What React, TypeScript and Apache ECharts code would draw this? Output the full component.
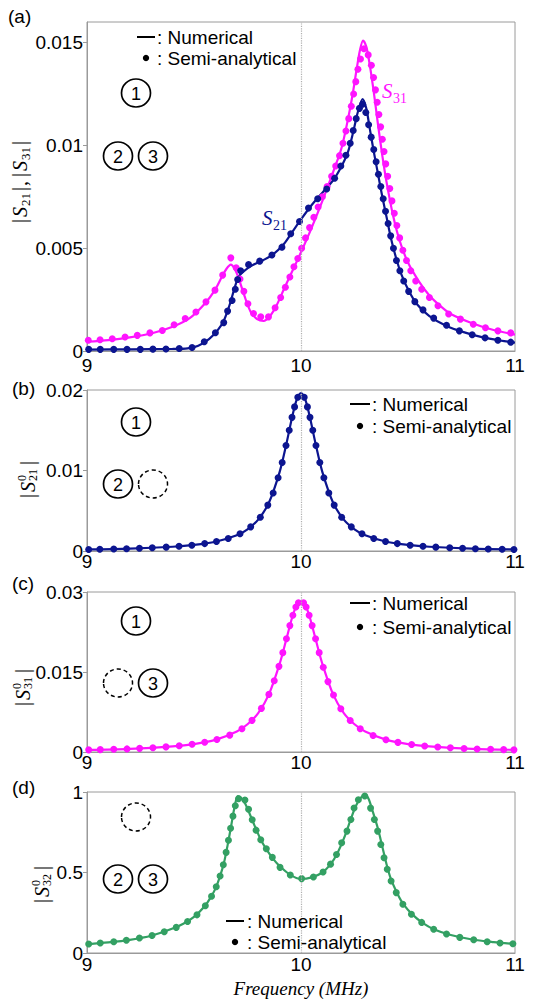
import { useEffect, useRef } from "react";
import * as echarts from "echarts";

type P = [number, number];

const SANS = "'Liberation Sans', Arial, sans-serif";
const SERIF = "'Liberation Serif', 'Times New Roman', serif";
const BLUE = "#0c1590";
const PINK = "#ff14ff";
const GREEN = "#33a063";

const freqTicks = [9, 10, 11];
const yTicksA = [0, 0.005, 0.01, 0.015];
const yTicksB = [0, 0.01, 0.02];
const yTicksC = [0, 0.015, 0.03];
const yTicksD = [0, 0.5, 1];
const yMax = [0.016, 0.02, 0.03, 1];
const yStep = [0.005, 0.01, 0.015, 0.5];

// (a) |S21| numerical
const s21LineA: P[] = [
  [9.0, 0.00007], [9.2, 0.00008], [9.4, 0.0001], [9.47, 0.00013], [9.52, 0.00026], [9.57, 0.00058],
  [9.61, 0.001], [9.64, 0.0015], [9.665, 0.0022], [9.685, 0.0029], [9.7, 0.0034], [9.715, 0.0037],
  [9.735, 0.0039], [9.77, 0.00415], [9.82, 0.0044], [9.87, 0.0047], [9.92, 0.0052], [9.96, 0.0058],
  [10.0, 0.0064], [10.05, 0.0071], [10.1, 0.0077], [10.15, 0.0083], [10.19, 0.009], [10.22, 0.0097],
  [10.245, 0.0107], [10.265, 0.0116], [10.288, 0.01225], [10.305, 0.0118], [10.32, 0.0109],
  [10.34, 0.0097], [10.36, 0.0086], [10.38, 0.0075], [10.4, 0.0065], [10.42, 0.0055], [10.445, 0.0045],
  [10.47, 0.0037], [10.5, 0.003], [10.54, 0.0023], [10.6, 0.0017], [10.68, 0.00122], [10.76, 0.00092],
  [10.85, 0.00066], [10.93, 0.00051], [11.0, 0.00041],
];
// (a) |S21| semi-analytical
const s21DotsA: P[] = [
  [9.008, 0.00008], [9.062, 0.00008], [9.125, 0.00008], [9.187, 0.00008], [9.249, 0.00008], [9.308, 0.00009],
  [9.369, 0.0001], [9.431, 0.00012], [9.491, 0.00017], [9.548, 0.00045], [9.6, 0.00089], [9.639, 0.00138],
  [9.657, 0.00194], [9.678, 0.00246], [9.693, 0.003], [9.704, 0.00348], [9.718, 0.0039], [9.755, 0.0042],
  [9.807, 0.00437], [9.864, 0.00467], [9.911, 0.00505], [9.952, 0.0057], [9.993, 0.0063], [10.035, 0.00695],
  [10.078, 0.0074], [10.12, 0.00788], [10.157, 0.0084], [10.186, 0.009], [10.21, 0.00952], [10.23, 0.0101],
  [10.244, 0.01072], [10.258, 0.0113], [10.273, 0.0118], [10.288, 0.012], [10.303, 0.0116], [10.316, 0.011],
  [10.328, 0.0104], [10.34, 0.0098], [10.351, 0.0092], [10.362, 0.0086], [10.373, 0.008], [10.384, 0.0074],
  [10.395, 0.0068], [10.407, 0.0062], [10.419, 0.0056], [10.432, 0.005], [10.446, 0.0044], [10.462, 0.0039],
  [10.48, 0.0034], [10.503, 0.0029], [10.532, 0.0024], [10.57, 0.002], [10.62, 0.0016], [10.68, 0.00125],
  [10.74, 0.00098], [10.8, 0.00079], [10.86, 0.00064], [10.92, 0.00052], [10.98, 0.00043],
];
// (a) |S31| numerical
const s31LineA: P[] = [
  [9.0, 0.00045], [9.1, 0.00053], [9.2, 0.00066], [9.3, 0.00085], [9.4, 0.00118], [9.48, 0.0016],
  [9.55, 0.0023], [9.6, 0.003], [9.63, 0.0036], [9.652, 0.004], [9.672, 0.0042], [9.69, 0.004],
  [9.71, 0.0035], [9.735, 0.0027], [9.765, 0.0019], [9.795, 0.00155], [9.825, 0.00146], [9.855, 0.0017],
  [9.885, 0.0022], [9.92, 0.003], [9.96, 0.0039], [10.0, 0.0048], [10.05, 0.006], [10.1, 0.0073],
  [10.15, 0.0087], [10.19, 0.0099], [10.22, 0.0113], [10.24, 0.0124], [10.26, 0.0137], [10.275, 0.0146],
  [10.29, 0.0151], [10.305, 0.0148], [10.32, 0.014], [10.34, 0.0126], [10.36, 0.011], [10.38, 0.0095],
  [10.4, 0.0082], [10.43, 0.0066], [10.46, 0.0054], [10.5, 0.0043], [10.55, 0.0034], [10.6, 0.0027],
  [10.65, 0.0022], [10.7, 0.0018], [10.8, 0.00135], [10.9, 0.00102], [11.0, 0.0008],
];
// (a) |S31| semi-analytical
const s31DotsA: P[] = [
  [9.006, 0.00052], [9.061, 0.00055], [9.118, 0.0006], [9.178, 0.00068], [9.235, 0.00076], [9.294, 0.00088],
  [9.352, 0.001], [9.407, 0.00128], [9.459, 0.00158], [9.509, 0.0019], [9.556, 0.00239], [9.598, 0.00296],
  [9.634, 0.00369], [9.672, 0.00453], [9.697, 0.00405], [9.715, 0.0035], [9.733, 0.0029], [9.752, 0.0023],
  [9.778, 0.00182], [9.812, 0.00166], [9.848, 0.00166], [9.879, 0.0021], [9.905, 0.0026], [9.927, 0.0031],
  [9.948, 0.0036], [9.967, 0.0041], [9.985, 0.0045], [10.003, 0.005], [10.021, 0.0055], [10.04, 0.006],
  [10.06, 0.0065], [10.08, 0.007], [10.1, 0.0075], [10.122, 0.008], [10.143, 0.0085], [10.162, 0.009],
  [10.18, 0.0095], [10.196, 0.0101], [10.21, 0.0107], [10.223, 0.0113], [10.235, 0.0119], [10.246, 0.0125],
  [10.256, 0.0131], [10.266, 0.0137], [10.278, 0.0142], [10.294, 0.0147], [10.314, 0.0144], [10.329, 0.0139],
  [10.339, 0.0133], [10.348, 0.0127], [10.356, 0.0121], [10.364, 0.0115], [10.372, 0.0109], [10.38, 0.0103],
  [10.388, 0.0097], [10.396, 0.0091], [10.405, 0.0085], [10.415, 0.0079], [10.425, 0.0073], [10.436, 0.0067],
  [10.448, 0.0061], [10.461, 0.0055], [10.476, 0.0049], [10.493, 0.0044], [10.513, 0.0039], [10.536, 0.0034],
  [10.564, 0.003], [10.6, 0.0026], [10.64, 0.0022], [10.69, 0.0018], [10.745, 0.00155], [10.805, 0.0013],
  [10.862, 0.00113], [10.92, 0.00098], [10.98, 0.00088],
];
// (b) |S21^0|
const s21LineB: P[] = [
  [9.0, 0.00019], [9.2, 0.0003], [9.4, 0.00053], [9.5, 0.00075], [9.6, 0.00115], [9.7, 0.00195],
  [9.75, 0.0027], [9.8, 0.0039], [9.85, 0.006], [9.9, 0.0098], [9.93, 0.0131], [9.96, 0.0168],
  [9.98, 0.0188], [10.0, 0.0196], [10.02, 0.0188], [10.04, 0.0168], [10.07, 0.0131], [10.1, 0.0098],
  [10.15, 0.006], [10.2, 0.0039], [10.25, 0.0027], [10.3, 0.00195], [10.4, 0.00115], [10.5, 0.00075],
  [10.6, 0.00053], [10.8, 0.0003], [11.0, 0.00019],
];
const s21DotsB: P[] = [
  [9.008, 0.00019], [9.06, 0.00022], [9.125, 0.00025], [9.185, 0.00029], [9.245, 0.00034], [9.305, 0.0004],
  [9.37, 0.00048], [9.43, 0.00058], [9.49, 0.00072], [9.55, 0.00092], [9.605, 0.00118], [9.66, 0.00155],
  [9.715, 0.00214], [9.765, 0.003], [9.81, 0.0042], [9.845, 0.0057], [9.87, 0.0072], [9.893, 0.0091],
  [9.912, 0.011], [9.93, 0.0131], [9.945, 0.015], [9.958, 0.0166], [9.97, 0.0179], [9.985, 0.0191],
  [10.015, 0.0191], [10.03, 0.0179], [10.042, 0.0166], [10.055, 0.015], [10.07, 0.0131], [10.088, 0.011],
  [10.107, 0.0091], [10.13, 0.0072], [10.155, 0.0057], [10.19, 0.0042], [10.235, 0.003], [10.285, 0.00214],
  [10.34, 0.00155], [10.395, 0.00118], [10.45, 0.00092], [10.51, 0.00072], [10.57, 0.00058], [10.63, 0.00048],
  [10.695, 0.0004], [10.755, 0.00034], [10.815, 0.00029], [10.875, 0.00025], [10.94, 0.00022], [10.995, 0.00019],
];
// (c) |S31^0|
const s31LineC: P[] = [
  [9.0, 0.00039], [9.2, 0.0006], [9.4, 0.00106], [9.5, 0.00149], [9.6, 0.00227], [9.7, 0.00383],
  [9.75, 0.0052], [9.8, 0.0073], [9.85, 0.0108], [9.9, 0.0165], [9.93, 0.0209], [9.96, 0.0254],
  [9.98, 0.0275], [10.0, 0.0283], [10.02, 0.0275], [10.04, 0.0254], [10.07, 0.0209], [10.1, 0.0165],
  [10.15, 0.0108], [10.2, 0.0073], [10.25, 0.0052], [10.3, 0.00383], [10.4, 0.00227], [10.5, 0.00149],
  [10.6, 0.00106], [10.8, 0.0006], [11.0, 0.0004],
];
const s31DotsC: P[] = [
  [9.008, 0.0004], [9.062, 0.00044], [9.125, 0.0005], [9.187, 0.00058], [9.246, 0.00068], [9.308, 0.0008],
  [9.369, 0.00096], [9.431, 0.00117], [9.491, 0.00144], [9.55, 0.00182], [9.607, 0.00234], [9.667, 0.00316],
  [9.724, 0.00437], [9.771, 0.00593], [9.815, 0.00818], [9.85, 0.0108], [9.875, 0.01335], [9.897, 0.01606],
  [9.915, 0.01863], [9.932, 0.02125], [9.948, 0.0237], [9.962, 0.02563], [9.976, 0.02718], [9.988, 0.028],
  [10.012, 0.028], [10.024, 0.02718], [10.038, 0.02563], [10.052, 0.0237], [10.068, 0.02125], [10.085, 0.01863],
  [10.104, 0.0159], [10.126, 0.0132], [10.152, 0.0107], [10.186, 0.0081], [10.23, 0.0059], [10.277, 0.00435],
  [10.337, 0.0031], [10.397, 0.0023], [10.453, 0.0018], [10.517, 0.0014], [10.578, 0.00113], [10.639, 0.00093],
  [10.698, 0.00078], [10.762, 0.00066], [10.823, 0.00057], [10.886, 0.0005], [10.947, 0.00044], [10.995, 0.0004],
];
// (d) |S32^0|
const s32LineD: P[] = [
  [9.0, 0.054], [9.1, 0.066], [9.2, 0.082], [9.3, 0.107], [9.4, 0.152], [9.45, 0.182], [9.5, 0.225],
  [9.55, 0.29], [9.58, 0.35], [9.6, 0.4], [9.62, 0.47], [9.64, 0.56], [9.66, 0.69], [9.675, 0.8],
  [9.69, 0.91], [9.705, 0.975], [9.72, 0.965], [9.74, 0.925], [9.76, 0.865], [9.785, 0.785], [9.81, 0.71],
  [9.84, 0.64], [9.87, 0.585], [9.9, 0.54], [9.95, 0.485], [10.0, 0.46], [10.05, 0.47], [10.1, 0.5],
  [10.14, 0.555], [10.17, 0.62], [10.2, 0.71], [10.23, 0.82], [10.255, 0.91], [10.28, 0.965], [10.298, 0.982],
  [10.315, 0.96], [10.335, 0.88], [10.36, 0.77], [10.38, 0.66], [10.4, 0.55], [10.42, 0.46], [10.45, 0.37],
  [10.48, 0.3], [10.52, 0.24], [10.57, 0.185], [10.62, 0.148], [10.7, 0.112], [10.8, 0.084], [10.9, 0.068],
  [11.0, 0.056],
];
const s32DotsD: P[] = [
  [9.008, 0.056], [9.062, 0.062], [9.125, 0.07], [9.184, 0.079], [9.245, 0.093], [9.304, 0.109], [9.361, 0.132],
  [9.417, 0.159], [9.47, 0.196], [9.514, 0.237], [9.553, 0.293], [9.582, 0.352], [9.604, 0.412], [9.622, 0.478],
  [9.637, 0.548], [9.65, 0.625], [9.661, 0.7], [9.671, 0.775], [9.682, 0.85], [9.693, 0.915], [9.708, 0.958],
  [9.738, 0.95], [9.755, 0.893], [9.772, 0.828], [9.79, 0.763], [9.812, 0.703], [9.838, 0.648], [9.866, 0.594],
  [9.902, 0.532], [9.95, 0.485], [10.003, 0.462], [10.058, 0.472], [10.103, 0.503], [10.138, 0.552],
  [10.166, 0.612], [10.19, 0.685], [10.215, 0.757], [10.233, 0.829], [10.248, 0.901], [10.268, 0.952],
  [10.298, 0.975], [10.325, 0.9], [10.343, 0.829], [10.358, 0.757], [10.373, 0.674], [10.388, 0.592],
  [10.403, 0.52], [10.421, 0.447], [10.445, 0.375], [10.476, 0.303], [10.516, 0.241], [10.564, 0.19],
  [10.62, 0.148], [10.68, 0.1175], [10.742, 0.097], [10.807, 0.0825], [10.87, 0.07], [10.93, 0.062],
  [10.99, 0.057],
];

const gridBoxes = [
  { left: 87, top: 22, width: 428, height: 329 },
  { left: 87, top: 390, width: 428, height: 161 },
  { left: 87, top: 592, width: 428, height: 160 },
  { left: 87, top: 792, width: 428, height: 161 },
];
const xLabelMargin = [5, 1, 1, 2];
const yTickSets = [yTicksA, yTicksB, yTicksC, yTicksD];

const T = (x: number, y: number, text: string, o: any = {}) => ({
  type: "text",
  x,
  y,
  silent: true,
  z: 100,
  style: {
    text,
    fill: o.fill ?? "#000",
    fontSize: o.size ?? 19,
    fontFamily: o.family ?? SANS,
    fontStyle: o.italic ? "italic" : "normal",
    align: o.align ?? "left",
    verticalAlign: o.va ?? "middle",
    textAlign: o.align ?? "left",
    textVerticalAlign: o.va ?? "middle",
  },
});

const circ = (cx: number, cy: number, label: string | null) => {
  const els: any[] = [
    {
      type: "ellipse",
      silent: true,
      z: 100,
      shape: { cx, cy, rx: 14.5, ry: 14 },
      style: label
        ? { fill: "none", stroke: "#000", lineWidth: 1.7 }
        : { fill: "none", stroke: "#000", lineWidth: 1.5, lineDash: [4, 3] },
    },
  ];
  if (label) els.push(T(cx, cy + 1, label, { size: 18, align: "center" }));
  return els;
};

const legendEls = (dx1: number, dx2: number, y1: number, y2: number, tx: number) => [
  { type: "line", silent: true, z: 100, shape: { x1: dx1, y1, x2: dx2, y2: y1 }, style: { stroke: "#000", lineWidth: 2 } },
  T(tx, y1, ": Numerical"),
  { type: "circle", silent: true, z: 100, shape: { cx: (dx1 + dx2) / 2, cy: y2, r: 3.2 }, style: { fill: "#000" } },
  T(tx, y2, ": Semi-analytical"),
];

const yTitleS0 = (cx: number, cy: number, sub: string) => ({
  type: "group",
  x: cx,
  y: cy,
  rotation: Math.PI / 2,
  silent: true,
  children: [
    T(-20, 0, "|", { family: SERIF, size: 21 }),
    T(-14, 1, "S", { family: SERIF, size: 20, italic: true }),
    T(-3, -5, "0", { family: SERIF, size: 12 }),
    T(-3, 6, sub, { family: SERIF, size: 12 }),
    T(13, 0, "|", { family: SERIF, size: 21 }),
  ],
});

const yTitleA = {
  type: "group",
  x: 19,
  y: 181,
  rotation: Math.PI / 2,
  silent: true,
  children: [
    T(-42, 0, "|", { family: SERIF, size: 21 }),
    T(-36, 1, "S", { family: SERIF, size: 20, italic: true }),
    T(-25, 6, "21", { family: SERIF, size: 13 }),
    T(-10, 0, "|", { family: SERIF, size: 21 }),
    T(-5, 1, ",", { family: SERIF, size: 20 }),
    T(4, 0, "|", { family: SERIF, size: 21 }),
    T(10, 1, "S", { family: SERIF, size: 20, italic: true }),
    T(21, 6, "31", { family: SERIF, size: 13 }),
    T(36, 0, "|", { family: SERIF, size: 21 }),
  ],
};

const graphics: any[] = [
  T(8, 16, "(a)"),
  T(12, 388, "(b)"),
  T(12, 583, "(c)"),
  T(12, 787, "(d)"),
  ...legendEls(137, 155, 37, 58, 157),
  ...legendEls(350, 370, 404, 426, 372),
  ...legendEls(350, 370, 603, 627, 372),
  ...legendEls(226, 244, 921, 942, 247),
  ...circ(136, 93, "1"),
  ...circ(118, 156, "2"),
  ...circ(153, 156, "3"),
  ...circ(136, 422, "1"),
  ...circ(118, 484, "2"),
  ...circ(153, 484, null),
  ...circ(136, 621, "1"),
  ...circ(118, 683, null),
  ...circ(153, 683, "3"),
  ...circ(136, 817, null),
  ...circ(118, 879, "2"),
  ...circ(153, 879, "3"),
  T(262, 218, "S", { family: SERIF, size: 21, italic: true, fill: BLUE }),
  T(273, 225, "21", { family: SERIF, size: 14, fill: BLUE }),
  T(382, 91, "S", { family: SERIF, size: 21, italic: true, fill: PINK }),
  T(393, 98, "31", { family: SERIF, size: 14, fill: PINK }),
  yTitleA,
  yTitleS0(27, 478, "21"),
  yTitleS0(22, 686, "31"),
  yTitleS0(41, 883, "32"),
  T(301, 988, "Frequency (MHz)", { family: SERIF, size: 19, italic: true, align: "center" }),
];

const fmt = (v: number) => String(parseFloat(v.toFixed(4)));

function buildOption() {
  const grid = gridBoxes.map((g) => ({ ...g, show: true, borderColor: "#9a9a9a", borderWidth: 1, backgroundColor: "transparent" }));
  const xAxis = gridBoxes.map((_, i) => ({
    type: "value",
    gridIndex: i,
    min: 9,
    max: 11,
    interval: 1,
    axisLine: { show: true, lineStyle: { color: "#9a9a9a", width: 1 } },
    axisTick: { show: false },
    splitLine: { show: false },
    axisLabel: {
      color: "#000",
      fontSize: 19,
      fontFamily: SANS,
      margin: xLabelMargin[i],
      customValues: freqTicks,
      formatter: (v: number) => fmt(v),
    },
  }));
  const yAxis = gridBoxes.map((_, i) => ({
    type: "value",
    gridIndex: i,
    min: 0,
    max: yMax[i],
    interval: yStep[i],
    axisLine: { show: true, lineStyle: { color: "#9a9a9a", width: 1 } },
    axisTick: { show: true, inside: false, length: 4, lineStyle: { color: "#9a9a9a" }, customValues: yTickSets[i] },
    splitLine: { show: false },
    axisLabel: {
      color: "#000",
      fontSize: 19,
      fontFamily: SANS,
      margin: 4,
      customValues: yTickSets[i],
      formatter: (v: number) => (yTickSets[i].some((t) => Math.abs(t - v) < 1e-9) ? fmt(v) : ""),
    },
  }));
  const vline = {
    silent: true,
    symbol: "none",
    label: { show: false },
    lineStyle: { color: "#b0b0b0", type: "dotted", width: 1.2 },
    data: [{ xAxis: 10 }],
  };
  const line = (data: P[], color: string, gi: number, withMark = false) => ({
    type: "line",
    xAxisIndex: gi,
    yAxisIndex: gi,
    data,
    smooth: 0.3,
    showSymbol: false,
    symbol: "none",
    silent: true,
    lineStyle: { color, width: 2.2 },
    itemStyle: { color },
    z: 2,
    ...(withMark ? { markLine: vline } : {}),
  });
  const dots = (data: P[], color: string, gi: number) => ({
    type: "scatter",
    xAxisIndex: gi,
    yAxisIndex: gi,
    data,
    symbol: "circle",
    symbolSize: 7,
    silent: true,
    itemStyle: { color, opacity: 1 },
    z: 3,
  });
  return {
    animation: false,
    backgroundColor: "#fff",
    grid,
    xAxis,
    yAxis,
    series: [
      line(s31LineA, PINK, 0, true),
      line(s21LineA, BLUE, 0),
      dots(s31DotsA, PINK, 0),
      dots(s21DotsA, BLUE, 0),
      line(s21LineB, BLUE, 1, true),
      dots(s21DotsB, BLUE, 1),
      line(s31LineC, PINK, 2, true),
      dots(s31DotsC, PINK, 2),
      line(s32LineD, GREEN, 3, true),
      dots(s32DotsD, GREEN, 3),
    ],
    graphic: { elements: graphics },
  };
}

export default function App() {
  const ref = useRef<HTMLDivElement>(null);
  useEffect(() => {
    document.body.style.margin = "0";
    if (!ref.current) return;
    const chart = echarts.init(ref.current, undefined, { renderer: "svg" });
    chart.setOption(buildOption() as any);
    return () => chart.dispose();
  }, []);
  return <div ref={ref} style={{ width: 536, height: 1004, background: "#fff" }} />;
}
